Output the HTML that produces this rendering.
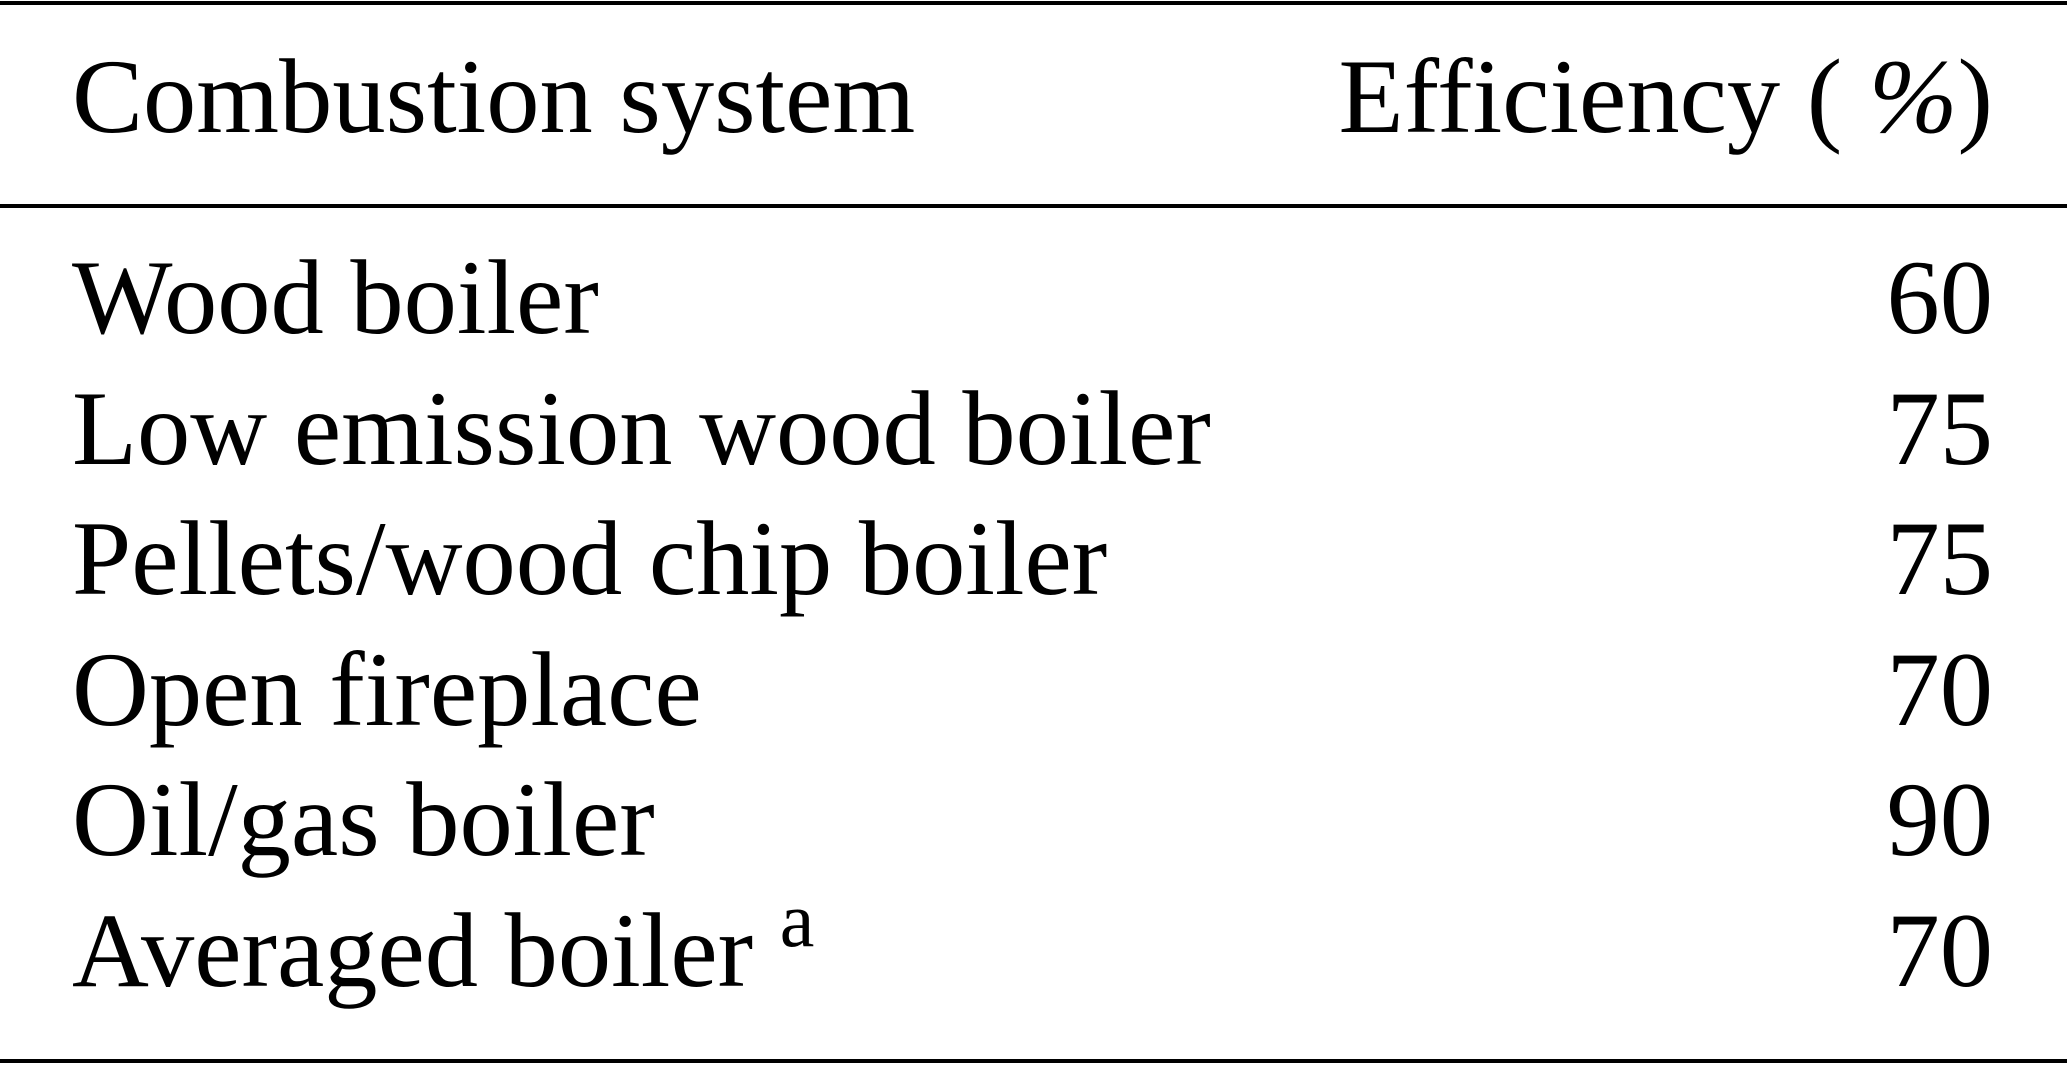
<!DOCTYPE html>
<html><head><style>html,body{margin:0;padding:0;background:#fff;}svg{display:block;}</style></head>
<body>
<svg width="2067" height="1066" xmlns="http://www.w3.org/2000/svg" font-family="'Liberation Serif', serif" font-size="106.5" fill="#000">
<rect x="0" y="1" width="2067" height="4" fill="#000"/>
<rect x="0" y="204" width="2067" height="4" fill="#000"/>
<rect x="0" y="1059" width="2067" height="4" fill="#000"/>
<text x="72" y="132">Combustion system</text>
<text x="1993" y="132" text-anchor="end">Efficiency ( <tspan font-style="italic">%</tspan>)</text>
<text x="72" y="333">Wood boiler</text><text x="1993" y="333" text-anchor="end">60</text>
<text x="72" y="464">Low emission wood boiler</text><text x="1993" y="464" text-anchor="end">75</text>
<text x="72" y="594">Pellets/wood chip boiler</text><text x="1993" y="594" text-anchor="end">75</text>
<text x="72" y="725">Open fireplace</text><text x="1993" y="725" text-anchor="end">70</text>
<text x="72" y="855">Oil/gas boiler</text><text x="1993" y="855" text-anchor="end">90</text>
<text x="72" y="986">Averaged boiler <tspan font-size="78" dy="-40">a</tspan></text><text x="1993" y="986" text-anchor="end">70</text>
</svg>
</body></html>
